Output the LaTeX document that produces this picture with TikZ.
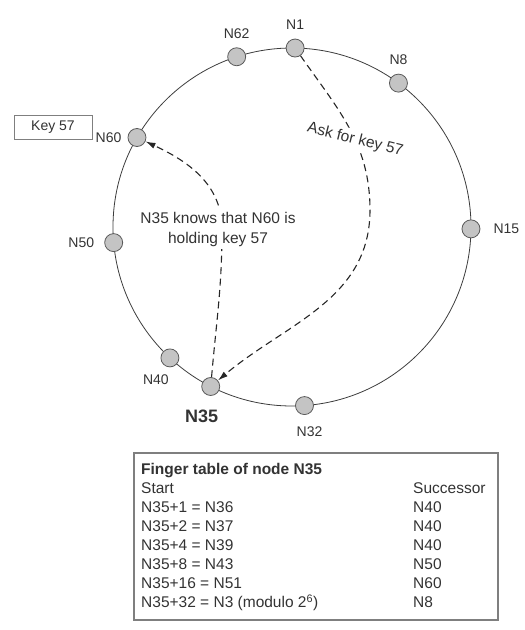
\documentclass[tikz,border=0pt]{standalone}
\usepackage{fontspec}
\setmainfont{Liberation Sans}
\usepackage{tikz}
\usetikzlibrary{
  arrows.meta,
  positioning,
}
\definecolor{ringfill}{HTML}{C4C4C4}
\definecolor{ringedge}{HTML}{5A5A5A}
\definecolor{ringline}{HTML}{3C3C3C}
\definecolor{inkgray}{HTML}{333333}
\definecolor{framegray}{HTML}{7F7F7F}
\tikzset{
  ringnode/.style={
    circle, draw=ringedge, line width=0.8pt, fill=ringfill,
    minimum size=18pt, inner sep=0pt,
  },
  ringlabel/.style={
    inner sep=0pt, text=inkgray, font=\fontsize{14}{16}\selectfont,
  },
  hoplabel/.style={
    rectangle, fill=white, inner sep=3pt, text=inkgray, align=center,
    font=\fontsize{15.5}{20}\selectfont,
  },
  keybox/.style={
    rectangle, draw=framegray, line width=0.9pt, fill=white,
    minimum width=78pt, minimum height=24pt, inner sep=0pt,
    text=inkgray, font=\fontsize{14}{16}\selectfont,
  },
  fingerbox/.style={
    rectangle, draw=framegray, line width=1.4pt, fill=white,
    minimum width=364pt, minimum height=167pt, inner sep=0pt,
  },
  tabtext/.style={
    inner sep=0pt, anchor=base west, text=inkgray,
    font=\fontsize{15.5}{19}\selectfont,
  },
  lookup/.style={
    -{Latex[length=10pt,width=6pt]}, line width=1.1pt, draw=black!85,
    dash pattern=on 7pt off 4.5pt,
  },
}

\begin{document}
\begin{tikzpicture}[x=1pt, y=1pt]
\useasboundingbox (-292,-403) rectangle (233,227);

% the ring
\draw[draw=ringline, line width=0.8pt] (0,0) circle (179pt);

% ring members, angle on the ring
\foreach \id/\ang in {1/89, 62/108, 8/53.5, 60/150, 15/-0.6, 50/185, 40/227, 35/243, 32/274}
{
  \node[ringnode] (n\id) at (\ang:179) {};
}

\node[ringlabel, above=8.5pt of n1] (l1) {N1};
\node[ringlabel, above=8.5pt of n62] (l62) {N62};
\node[ringlabel, above=8.5pt of n8] (l8) {N8};
\node[ringlabel, left=6pt of n60] (l60) {N60};
\node[ringlabel, right=13pt of n15] (l15) {N15};
\node[ringlabel, left=10pt of n50] (l50) {N50};
\node[ringlabel, below=7pt of n40, xshift=-14pt] (l40) {N40};
\node[ringlabel, below=14pt of n35, xshift=-9pt,
  font=\fontsize{18}{20}\selectfont\bfseries] (l35) {N35};
\node[ringlabel, below=11.5pt of n32, xshift=5pt] (l32) {N32};

\node[keybox] (key57) at (-239,100) {Key 57};

% lookup paths
\coordinate (bendA) at (78,17);
\coordinate (bendB) at (-70,-2);
\draw[lookup] (n1) to[out=-55, in=90]
  node[pos=0.58, hoplabel, rotate=-14] (askq) {Ask for key 57}
  (bendA) to[out=-90, in=40] (n35);
\draw[lookup] (n35) to[out=85, in=-90] (bendB)
  node[hoplabel, xshift=-4pt] (knows) {N35 knows that N60 is\\holding key 57}
  to[out=90, in=-25] (n60);

% finger table
\node[fingerbox] (ftable) at (24,-309.5) {};
\node[tabtext, font=\fontsize{15.5}{19}\selectfont\bfseries] (fhead)
  at (-151,-247.5) {Finger table of node N35};
\foreach \st/\su [count=\i from 0] in {Start/Successor, {N35+1 = N36}/N40,
  {N35+2 = N37}/N40, {N35+4 = N39}/N40, {N35+8 = N43}/N50,
  {N35+16 = N51}/N60, {N35+32 = N3 (modulo 2\textsuperscript{6})}/N8}
{
  \node[tabtext] (st\i) at (-151, {-266.5-19*\i}) {\st};
  \node[tabtext] (su\i) at (121, {-266.5-19*\i}) {\su};
}

\end{tikzpicture}
\end{document}
